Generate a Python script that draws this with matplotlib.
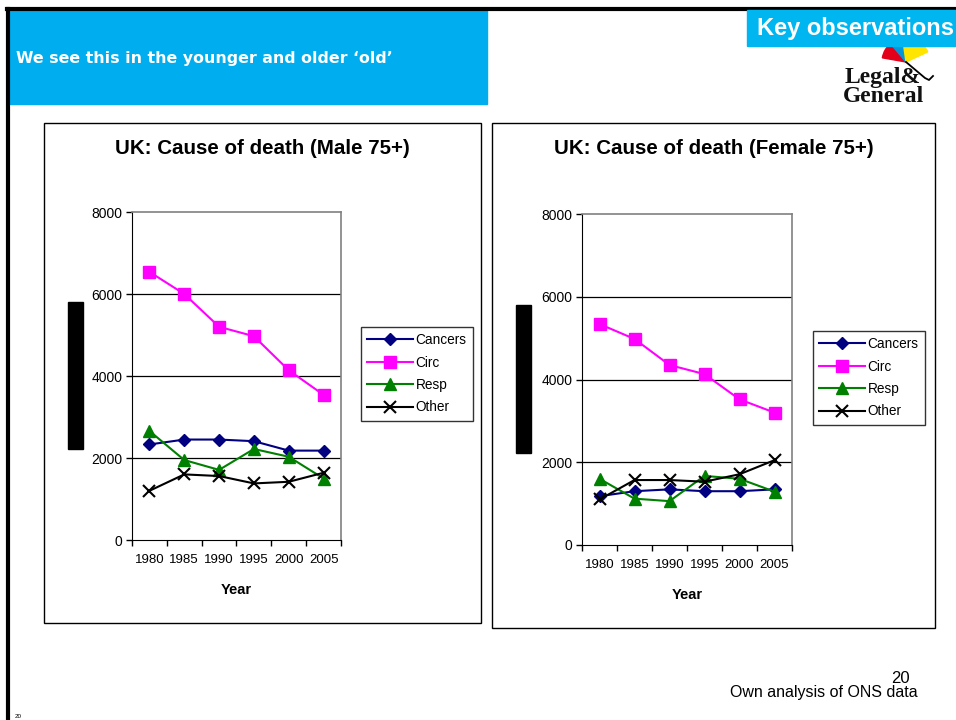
import matplotlib
matplotlib.use("Agg")
import matplotlib.pyplot as plt
from matplotlib.patches import Rectangle, Wedge
from matplotlib.lines import Line2D

plt.rcParams["font.family"] = ["Liberation Sans", "DejaVu Sans"]

W, H = 956, 720

years = ["1980", "1985", "1990", "1995", "2000", "2005"]
series_names = ["Cancers", "Circ", "Resp", "Other"]

male_cancers = [2330, 2450, 2450, 2410, 2180, 2180]
male_circ = [6540, 6000, 5200, 4970, 4140, 3540]
male_resp = [2660, 1950, 1710, 2220, 2030, 1500]
male_other = [1200, 1600, 1560, 1380, 1420, 1640]

female_cancers = [1180, 1300, 1345, 1300, 1300, 1345]
female_circ = [5340, 4980, 4350, 4130, 3520, 3200]
female_resp = [1600, 1120, 1060, 1670, 1600, 1290]
female_other = [1100, 1570, 1570, 1530, 1710, 2050]

y_ticks = [0, 2000, 4000, 6000, 8000]

STYLES = {
    "Cancers": dict(color="#000080", marker="D", ms=6.5),
    "Circ": dict(color="#FF00FF", marker="s", ms=8),
    "Resp": dict(color="#008000", marker="^", ms=9),
    "Other": dict(color="black", marker="x", ms=9, mew=1.5),
}


def px_rect(x, y, w, h):
    """pixel box (top-left origin) -> figure fraction [l, b, w, h]"""
    return [x / W, 1 - (y + h) / H, w / W, h / H]


fig = plt.figure(figsize=(W / 100, H / 100), dpi=100)
fig.patch.set_facecolor("white")

# slide frame (top + left black rules)
fig.add_artist(Line2D([7 / W, 1], [1 - 9 / H, 1 - 9 / H], color="black", lw=3,
                      transform=fig.transFigure))
fig.add_artist(Line2D([7.5 / W, 7.5 / W], [0, 1 - 9 / H], color="black", lw=3,
                      transform=fig.transFigure))

# header banner
fig.add_artist(Rectangle((9 / W, 1 - 104 / H), 478 / W, 94 / H, color="#00AEEF",
                         transform=fig.transFigure, zorder=1))
fig.text(16 / W, 1 - 58 / H, "We see this in the younger and older \u2018old\u2019",
         color="white", fontsize=11.4, fontweight="bold", va="center", ha="left",
         family="DejaVu Sans")

# logo (rough umbrella + wordmark); axes is 1 unit per pixel
lax = fig.add_axes(px_rect(870, 36, 80, 60), zorder=2)
lax.set_xlim(0, 80); lax.set_ylim(0, 60); lax.set_aspect("equal"); lax.axis("off")
for t1, t2, c in [(130, 170, "#E3001B"), (98, 130, "#0098DA"), (25, 98, "#FFE500")]:
    lax.add_patch(Wedge((36, 34), 24, t1, t2, color=c))
lax.plot([36, 55, 59, 63], [34, 18, 16, 20], color="black", lw=1.3)
fig.text(883 / W, 1 - 87 / H, "Legal&\nGeneral", family="Liberation Serif",
         fontsize=17, fontweight="bold", ha="center", va="center",
         multialignment="center", linespacing=0.85, color="#111111")

fig.add_artist(Rectangle((747 / W, 1 - 46 / H), 209 / W, 36 / H, color="#00B6F1",
                         transform=fig.transFigure, zorder=3))
fig.text(757 / W, 1 - 28 / H, "Key observations", color="white", fontsize=17,
         fontweight="bold", va="center", ha="left", zorder=4)


def chart(box, plot, bar, leg, title, data):
    bx, by, bw, bh = box
    fig.add_artist(Rectangle((bx / W, 1 - (by + bh) / H), bw / W, bh / H, fill=False,
                             ec="black", lw=1, transform=fig.transFigure))
    fig.text((bx + bw / 2) / W, 1 - (by + 26) / H, title, fontsize=14.8,
             fontweight="bold", ha="center", va="center")
    x0, y0, x1, y1 = bar
    fig.add_artist(Rectangle((x0 / W, 1 - y1 / H), (x1 - x0) / W, (y1 - y0) / H,
                             color="black", transform=fig.transFigure))

    ax = fig.add_axes(px_rect(*plot))
    xs = range(len(years))
    handles = []
    for name, vals in zip(series_names, data):
        st = STYLES[name]
        h, = ax.plot(xs, vals, color=st["color"], marker=st["marker"],
                     markersize=st["ms"], markeredgewidth=st.get("mew", 1),
                     lw=1.5, label=name, clip_on=False, zorder=3)
        handles.append(h)
    ax.set_xlim(-0.5, len(years) - 0.5)
    ax.set_ylim(0, 8000)
    ax.set_yticks(y_ticks)
    ax.set_yticklabels([str(v) for v in y_ticks], fontsize=10)
    ax.set_xticks([i - 0.5 for i in range(len(years) + 1)])
    ax.set_xticklabels([])
    ax.set_xticks(list(xs), minor=True)
    ax.set_xticklabels(years, minor=True, fontsize=9.5)
    ax.tick_params(axis="x", which="minor", length=0, pad=10)
    ax.tick_params(axis="both", which="major", length=4, direction="out", width=1)
    ax.tick_params(axis="y", pad=3)
    for v in y_ticks[1:-1]:
        ax.axhline(v, color="black", lw=0.9, zorder=1)
    for s in ["top", "right"]:
        ax.spines[s].set_color("#808080")
        ax.spines[s].set_linewidth(1.2)
    for s in ["left", "bottom"]:
        ax.spines[s].set_color("black")
    ax.set_xlabel("Year", fontsize=10.5, fontweight="bold", labelpad=12)

    lx, ly, lw_, lh = leg
    lg = fig.legend(handles=handles, loc="upper left",
                    bbox_to_anchor=(lx / W, 1 - ly / H), fontsize=9.8,
                    frameon=True, fancybox=False, edgecolor="black",
                    handlelength=3.4, handletextpad=0.15, labelspacing=0.62,
                    borderpad=0.45, borderaxespad=0)
    lg.get_frame().set_linewidth(1)


chart((44, 123, 437, 500), (132, 212, 209, 328), (68, 302, 83, 449),
      (361, 327, 112, 96), "UK: Cause of death (Male 75+)",
      [male_cancers, male_circ, male_resp, male_other])
chart((492, 123, 443, 505), (582, 214, 210, 331), (516, 305, 531, 453),
      (813, 331, 114, 95), "UK: Cause of death (Female 75+)",
      [female_cancers, female_circ, female_resp, female_other])

# footer
fig.text(900 / W, 1 - 683 / H, "20", fontsize=12, ha="center", va="baseline")
fig.text(918 / W, 1 - 693 / H, "Own analysis of ONS data", fontsize=11.5,
         ha="right", va="center")
fig.text(15 / W, 1 - 716 / H, "20", fontsize=4.5, ha="left", va="center")

fig.savefig("out.png", dpi=100, facecolor="white")
